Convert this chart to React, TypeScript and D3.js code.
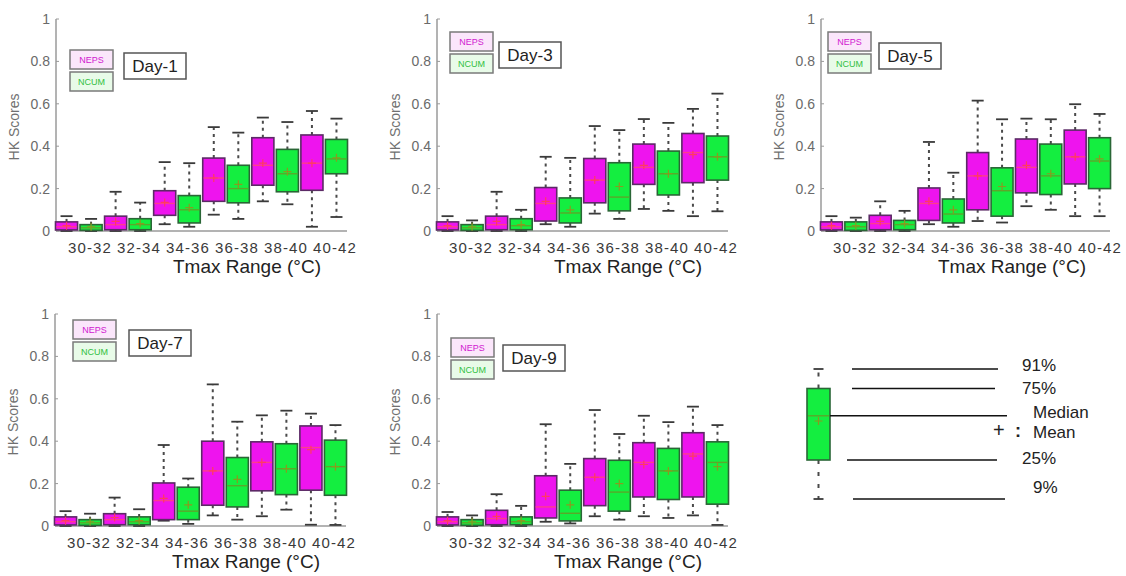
import React from "react";
import * as d3 from "d3";

// ---------- DATA ----------
const ranges = ["30-32", "32-34", "34-36", "36-38", "38-40", "40-42"];
const days = ["Day-1", "Day-3", "Day-5", "Day-7", "Day-9"];
const models = ["NEPS", "NCUM"];
const yTicks = [0, 0.2, 0.4, 0.6, 0.8, 1];
const yTickLabels = ["0", "0.2", "0.4", "0.6", "0.8", "1"];
const xTitle = "Tmax Range (°C)";
const yTitle = "HK Scores";

// each entry: [p9, q25, median, mean, q75, p91]
const day1Neps = [
  [0, 0.005, 0.02, 0.025, 0.043, 0.07],
  [0, 0.006, 0.03, 0.045, 0.07, 0.185],
  [0.032, 0.074, 0.13, 0.135, 0.19, 0.325],
  [0.077, 0.14, 0.25, 0.25, 0.344, 0.49],
  [0.14, 0.216, 0.31, 0.32, 0.44, 0.535],
  [0.02, 0.192, 0.32, 0.32, 0.453, 0.566],
];
const day1Ncum = [
  [0, 0.003, 0.015, 0.02, 0.03, 0.057],
  [0, 0.006, 0.03, 0.035, 0.058, 0.134],
  [0.02, 0.038, 0.1, 0.11, 0.167, 0.32],
  [0.057, 0.133, 0.2, 0.22, 0.31, 0.464],
  [0.126, 0.185, 0.27, 0.28, 0.385, 0.514],
  [0.066, 0.27, 0.34, 0.345, 0.432, 0.53],
];
const day3Neps = [
  [0, 0.005, 0.02, 0.025, 0.043, 0.07],
  [0, 0.006, 0.03, 0.045, 0.07, 0.185],
  [0.032, 0.047, 0.13, 0.14, 0.205, 0.35],
  [0.082, 0.133, 0.24, 0.24, 0.342, 0.495],
  [0.104, 0.22, 0.3, 0.31, 0.41, 0.528],
  [0.07, 0.228, 0.37, 0.36, 0.46, 0.576],
];
const day3Ncum = [
  [0, 0.003, 0.015, 0.02, 0.03, 0.05],
  [0, 0.006, 0.025, 0.03, 0.058, 0.1],
  [0.02, 0.038, 0.085, 0.1, 0.156, 0.345],
  [0.057, 0.095, 0.16, 0.21, 0.322, 0.476],
  [0.095, 0.17, 0.27, 0.27, 0.377, 0.51],
  [0.093, 0.24, 0.35, 0.35, 0.448, 0.648],
];
const day5Neps = [
  [0, 0.005, 0.02, 0.025, 0.043, 0.07],
  [0, 0.006, 0.035, 0.045, 0.074, 0.14],
  [0.032, 0.05, 0.13, 0.14, 0.203, 0.42],
  [0.047, 0.1, 0.26, 0.26, 0.37, 0.615],
  [0.117, 0.18, 0.3, 0.31, 0.434, 0.53],
  [0.07, 0.222, 0.35, 0.35, 0.476, 0.598],
];
const day5Ncum = [
  [0, 0.003, 0.02, 0.025, 0.043, 0.063],
  [0, 0.006, 0.03, 0.035, 0.05, 0.095],
  [0.02, 0.038, 0.08, 0.1, 0.151, 0.275],
  [0.04, 0.07, 0.19, 0.21, 0.298, 0.527],
  [0.1, 0.172, 0.26, 0.27, 0.41, 0.527],
  [0.07, 0.2, 0.33, 0.34, 0.44, 0.552],
];
const day7Neps = [
  [0, 0.005, 0.02, 0.025, 0.043, 0.07],
  [0, 0.006, 0.03, 0.04, 0.058, 0.134],
  [0.025, 0.03, 0.12, 0.13, 0.203, 0.382],
  [0.05, 0.098, 0.26, 0.26, 0.4, 0.668],
  [0.046, 0.166, 0.3, 0.3, 0.397, 0.522],
  [0.006, 0.169, 0.37, 0.36, 0.472, 0.53],
];
const day7Ncum = [
  [0, 0.003, 0.015, 0.02, 0.03, 0.058],
  [0, 0.006, 0.02, 0.025, 0.043, 0.079],
  [0.01, 0.03, 0.07, 0.1, 0.183, 0.224],
  [0.03, 0.09, 0.19, 0.22, 0.323, 0.492],
  [0.077, 0.148, 0.27, 0.27, 0.388, 0.544],
  [0.005, 0.145, 0.28, 0.28, 0.405, 0.476],
];
const day9Neps = [
  [0, 0.005, 0.02, 0.025, 0.043, 0.066],
  [0, 0.006, 0.035, 0.045, 0.074, 0.15],
  [0.02, 0.038, 0.09, 0.14, 0.237, 0.48],
  [0.046, 0.096, 0.23, 0.23, 0.318, 0.547],
  [0.046, 0.137, 0.3, 0.29, 0.393, 0.52],
  [0.05, 0.137, 0.34, 0.33, 0.44, 0.563],
];
const day9Ncum = [
  [0, 0.003, 0.015, 0.02, 0.03, 0.05],
  [0, 0.006, 0.02, 0.025, 0.043, 0.095],
  [0.012, 0.024, 0.06, 0.1, 0.169, 0.293],
  [0.03, 0.07, 0.16, 0.2, 0.31, 0.434],
  [0.038, 0.125, 0.26, 0.26, 0.366, 0.49],
  [0.005, 0.103, 0.3, 0.28, 0.397, 0.476],
];

// key (schematic box): [p9, q25, median, mean, q75, p91]
const keyStats = [0, 0.3, 0.64, 0.6, 0.85, 1];
const keyLabels = ["9%", "25%", "Median", "Mean", "75%", "91%"];

// ---------- STYLE / LAYOUT ----------
const FONT = "'Liberation Sans', Arial, sans-serif";
const styles = {
  NEPS: { fill: "#ee14ee", stroke: "#5c2a66", median: "#ff3c8c", mean: "#ff3a60", text: "#d020d0", legendFill: "#fbe6fb" },
  NCUM: { fill: "#14ee40", stroke: "#2a6636", median: "#5aa82a", mean: "#8a9a20", text: "#30c040", legendFill: "#e8fbe8" },
};

const panelLayout = [
  { ax: 56, ex: 347, y0: 231, y1: 19, lgX: 14, lgY: 31, dX: 68, dY: 34 },
  { ax: 437, ex: 728, y0: 231, y1: 19, lgX: 13, lgY: 13, dX: 62, dY: 23 },
  { ax: 821, ex: 1110, y0: 231, y1: 19, lgX: 7, lgY: 13, dX: 58, dY: 24 },
  { ax: 55, ex: 346, y0: 526, y1: 314, lgX: 18, lgY: 6, dX: 74, dY: 16 },
  { ax: 437, ex: 728, y0: 526, y1: 314, lgX: 14, lgY: 24, dX: 66, dY: 31 },
];
const dayData = [
  [day1Neps, day1Ncum],
  [day3Neps, day3Ncum],
  [day5Neps, day5Ncum],
  [day7Neps, day7Ncum],
  [day9Neps, day9Ncum],
];

function BoxMark({ s, cx, bw, y, st, capW = 12, dash = "3,4" }) {
  const [p9, q25, med, mean, q75, p91] = s;
  const x = cx - bw / 2;
  return (
    <g>
      <line x1={cx} x2={cx} y1={y(q75)} y2={y(p91)} stroke="#4a4a4a" strokeWidth={2} strokeDasharray={dash} />
      <line x1={cx} x2={cx} y1={y(q25)} y2={y(p9)} stroke="#4a4a4a" strokeWidth={2} strokeDasharray={dash} />
      <line x1={cx - capW / 2} x2={cx + capW / 2} y1={y(p91)} y2={y(p91)} stroke="#3a3a3a" strokeWidth={1.8} />
      <line x1={cx - capW / 2} x2={cx + capW / 2} y1={y(p9)} y2={y(p9)} stroke="#3a3a3a" strokeWidth={1.8} />
      <rect x={x} y={y(q75)} width={bw} height={Math.max(1, y(q25) - y(q75))} fill={st.fill} stroke={st.stroke} strokeWidth={1.6} />
      <line x1={x + 1} x2={x + bw - 1} y1={y(med)} y2={y(med)} stroke={st.median} strokeWidth={1.4} />
      <path d={`M${cx - 4},${y(mean)}H${cx + 4}M${cx},${y(mean) - 4}V${y(mean) + 4}`} stroke={st.mean} strokeWidth={1.2} fill="none" />
    </g>
  );
}

function Panel({ li }) {
  const L = panelLayout[li];
  const [neps, ncum] = dayData[li];
  const y = d3.scaleLinear().domain([0, 1]).range([L.y0, L.y1]);
  const xb = d3.scaleBand().domain(d3.range(ranges.length * 2)).range([L.ax - 1, L.ex + 1]).paddingInner(0.1).paddingOuter(0.02);
  const xl = d3.scalePoint().domain(ranges).range([L.ax + 34, L.ax + 279]);
  const bw = xb.bandwidth();
  const lgx = L.ax + L.lgX;
  const lgy = L.y1 + L.lgY;
  return (
    <g>
      {/* axes */}
      <line x1={L.ax} x2={L.ax} y1={L.y0} y2={L.y1} stroke="#9a9a9a" strokeWidth={1.5} />
      <line x1={L.ax} x2={L.ex} y1={L.y0} y2={L.y0} stroke="#9a9a9a" strokeWidth={1.5} />
      {yTicks.map((t, i) => (
        <g key={i}>
          <line x1={L.ax} x2={L.ax + 3} y1={y(t)} y2={y(t)} stroke="#9a9a9a" />
          <text x={L.ax - 6} y={y(t)} textAnchor="end" dominantBaseline="central" fontSize={14} fill="#6a6a6a" fontFamily={FONT}>
            {yTickLabels[i]}
          </text>
        </g>
      ))}
      <text
        transform={`translate(${L.ax - 42},${(L.y0 + L.y1) / 2 + 2}) rotate(-90)`}
        textAnchor="middle"
        dominantBaseline="central"
        fontSize={14}
        fill="#707070"
        fontFamily={FONT}
      >
        {yTitle}
      </text>
      {/* boxes */}
      {ranges.map((r, i) => (
        <g key={r}>
          <BoxMark s={neps[i]} cx={xb(2 * i) + bw / 2} bw={bw} y={y} st={styles.NEPS} />
          <BoxMark s={ncum[i]} cx={xb(2 * i + 1) + bw / 2} bw={bw} y={y} st={styles.NCUM} />
        </g>
      ))}
      {/* x tick labels */}
      {ranges.map((r) => (
        <text key={r} x={xl(r)} y={L.y0 + 16} textAnchor="middle" dominantBaseline="central" fontSize={15} letterSpacing={1.1} fill="#3a3a3a" fontFamily={FONT}>
          {r}
        </text>
      ))}
      <text x={L.ax + 191} y={L.y0 + 35} textAnchor="middle" dominantBaseline="central" fontSize={19} fill="#222" fontFamily={FONT}>
        {xTitle}
      </text>
      {/* legend */}
      {models.map((m, k) => (
        <g key={m}>
          <rect x={lgx} y={lgy + k * 22} width={43} height={19} fill={styles[m].legendFill} stroke="#7a7a7a" strokeWidth={1.5} />
          <text x={lgx + 21.5} y={lgy + k * 22 + 9.5} textAnchor="middle" dominantBaseline="central" fontSize={9} fill={styles[m].text} fontFamily={FONT}>
            {m}
          </text>
        </g>
      ))}
      <rect x={L.ax + L.dX} y={L.y1 + L.dY} width={62} height={26} fill="#fff" stroke="#555" strokeWidth={1.5} />
      <text x={L.ax + L.dX + 31} y={L.y1 + L.dY + 13} textAnchor="middle" dominantBaseline="central" fontSize={17} fill="#222" fontFamily={FONT}>
        {days[li]}
      </text>
    </g>
  );
}

function Key() {
  const y = d3.scaleLinear().domain([0, 1]).range([499, 369]);
  const cx = 818.5;
  const lines = [
    { v: keyStats[5], x1: 852, x2: 998 },
    { v: keyStats[4], x1: 852, x2: 995 },
    { v: keyStats[2], x1: 830, x2: 1007 },
    { v: keyStats[1], x1: 847, x2: 997 },
    { v: keyStats[0], x1: 853, x2: 1005 },
  ];
  const labels = [
    { t: keyLabels[5], x: 1022, v: keyStats[5], dy: -4 },
    { t: keyLabels[4], x: 1022, v: keyStats[4], dy: 0 },
    { t: keyLabels[2], x: 1033, v: keyStats[2], dy: -3 },
    { t: keyLabels[1], x: 1022, v: keyStats[1], dy: -2 },
    { t: keyLabels[0], x: 1033, v: keyStats[0], dy: -12 },
  ];
  return (
    <g>
      <BoxMark s={keyStats} cx={cx} bw={23} y={y} st={styles.NCUM} capW={10} dash="4,8" />
      {lines.map((l, i) => (
        <line key={i} x1={l.x1} x2={l.x2} y1={y(l.v)} y2={y(l.v)} stroke="#111" strokeWidth={1.5} />
      ))}
      {labels.map((l, i) => (
        <text key={i} x={l.x} y={y(l.v) + l.dy} dominantBaseline="central" fontSize={17} fill="#222" fontFamily={FONT}>
          {l.t}
        </text>
      ))}
      <text x={993} y={430} dominantBaseline="central" fontSize={20} fill="#222" fontFamily={FONT}>+</text>
      <text x={1015} y={431} dominantBaseline="central" fontSize={18} fontWeight="bold" fill="#222" fontFamily={FONT}>:</text>
      <text x={1033} y={432} dominantBaseline="central" fontSize={17} fill="#222" fontFamily={FONT}>{keyLabels[3]}</text>
    </g>
  );
}

export default function App() {
  return (
    <svg width={1126} height={576} style={{ position: "absolute", left: 0, top: 0, display: "block", background: "#fff" }}>
      <rect width={1126} height={576} fill="#fff" />
      {panelLayout.map((_, i) => (
        <Panel key={i} li={i} />
      ))}
      <Key />
    </svg>
  );
}
